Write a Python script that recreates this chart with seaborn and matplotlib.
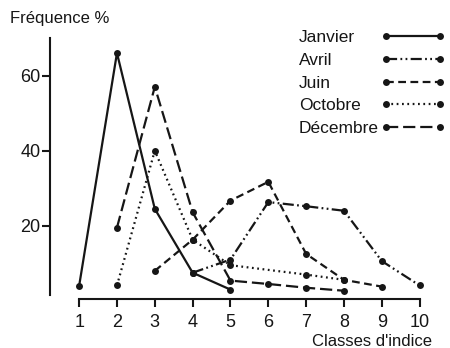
import matplotlib
matplotlib.use("Agg")
import matplotlib.pyplot as plt
import seaborn as sns
import pandas as pd
from matplotlib.lines import Line2D

sns.set_style("white")
plt.rcParams['font.family'] = ['Liberation Sans', 'DejaVu Sans']

months = ["Janvier", "Avril", "Juin", "Octobre", "Décembre"]
janvier_x = [1, 2, 3, 4, 5]
janvier_y = [4, 66, 24.5, 7.5, 3]
avril_x = [4, 5, 6, 7, 8, 9, 10]
avril_y = [7.5, 11, 26.3, 25.2, 24, 10.6, 4.1]
juin_x = [3, 4, 5, 6, 7, 8, 9]
juin_y = [8, 16.3, 26.7, 31.7, 12.5, 5.6, 3.8]
octobre_x = [2, 3, 4, 5, 7, 8]
octobre_y = [4.1, 40, 16.3, 9.5, 7, 5.6]
decembre_x = [2, 3, 4, 5, 6, 7, 8]
decembre_y = [19.5, 57, 23.6, 5.4, 4.5, 3.5, 2.7]
xticks = [1, 2, 3, 4, 5, 6, 7, 8, 9, 10]
yticks = [20, 40, 60]

series = {
    "Janvier": (janvier_x, janvier_y),
    "Avril": (avril_x, avril_y),
    "Juin": (juin_x, juin_y),
    "Octobre": (octobre_x, octobre_y),
    "Décembre": (decembre_x, decembre_y),
}
rows = []
for m, (xs, ys) in series.items():
    for x, y in zip(xs, ys):
        rows.append({"classe": x, "freq": y, "mois": m})
df = pd.DataFrame(rows)

dashes = {
    "Janvier": "",
    "Avril": (5, 1.5, 0.8, 1.5, 0.8, 1.5),
    "Juin": (3.5, 2),
    "Octobre": (0.8, 1.6),
    "Décembre": (5.5, 2.2),
}
ink = "#161616"

fig = plt.figure(figsize=(4.5, 3.48), dpi=100)
ax = fig.add_axes([50/450, 49/348, 381/450, 261/348])

sns.lineplot(data=df, x="classe", y="freq", style="mois", style_order=months,
             dashes=dashes, markers={m: "o" for m in months}, color=ink,
             linewidth=1.6, markersize=5, markeredgewidth=0, legend=False,
             sort=True, ax=ax)

ax.set_xlim(0.23, 10.3)
ax.set_ylim(0.5, 70)
ax.set_xticks(xticks)
ax.set_yticks(yticks)
ax.set_xticklabels([str(t) for t in xticks])
ax.set_xlabel("")
ax.set_ylabel("")
for s in ["top", "right"]:
    ax.spines[s].set_visible(False)
for s in ["left", "bottom"]:
    ax.spines[s].set_linewidth(1.5)
    ax.spines[s].set_color(ink)
ax.spines["left"].set_bounds(1.6, 70)
ax.spines["bottom"].set_bounds(1, 10)
ax.tick_params(axis="both", direction="out", length=6, width=1.5, color=ink,
               labelsize=13, labelcolor=ink, bottom=True, left=True)
ax.tick_params(axis="y", pad=1)
ax.tick_params(axis="x", pad=5)

fig.text(0.022, 0.948, "Fréquence %", fontsize=12, color=ink, va="center", ha="left")
fig.text(0.96, 0.02, "Classes d'indice", fontsize=12, color=ink, va="center", ha="right")

lines = ax.get_lines()[:len(months)]
blank = [Line2D([], [], linestyle="none", marker="none") for _ in months]
leg1 = ax.legend(blank, months, loc="upper left", bbox_to_anchor=(0.664, 0.913),
                 bbox_transform=fig.transFigure, frameon=False, handlelength=0,
                 handletextpad=0, borderpad=0, borderaxespad=0, labelspacing=0.43,
                 fontsize=12.5, labelcolor=ink)
ax.add_artist(leg1)
ax.legend(lines, [" "] * len(months), loc="upper left", bbox_to_anchor=(0.847, 0.913),
          bbox_transform=fig.transFigure, frameon=False, handlelength=3.7,
          handletextpad=0, borderpad=0, borderaxespad=0, labelspacing=0.43,
          fontsize=12.5, numpoints=2)

fig.savefig("out.png", dpi=100)
